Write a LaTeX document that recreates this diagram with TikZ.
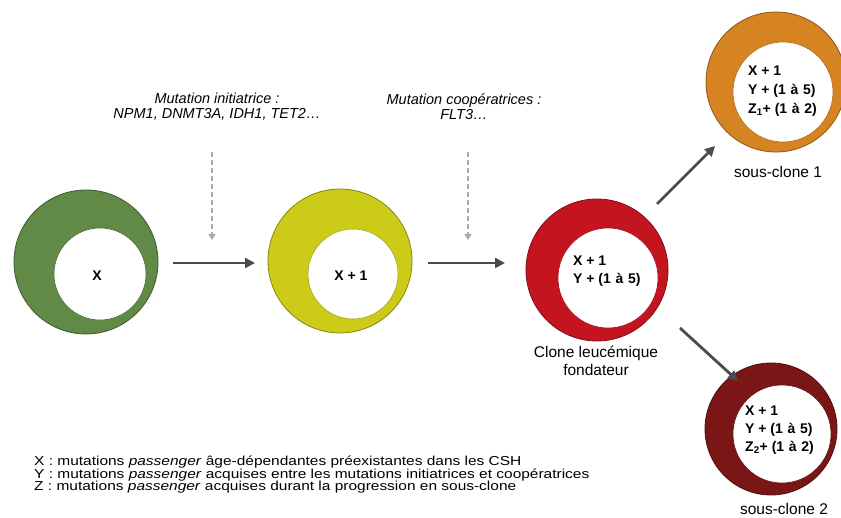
\documentclass[tikz,border=0pt]{standalone}
\usepackage{fontspec}
\setmainfont{Liberation Sans}
\newfontfamily\legfont[FakeStretch=1.19]{Liberation Sans}
\usetikzlibrary{arrows.meta}
\definecolor{cgreen}{RGB}{96,138,70}
\definecolor{cyellow}{RGB}{204,204,24}
\definecolor{cred}{RGB}{196,20,32}
\definecolor{corange}{RGB}{214,132,34}
\definecolor{cdark}{RGB}{122,22,22}
\definecolor{carrow}{RGB}{72,75,80}
\definecolor{cdash}{RGB}{172,172,172}
\begin{document}
\begin{tikzpicture}[x=1pt,y=-1pt,
 ring/.style={circle, draw=#1!65!black, fill=#1, line width=0.8pt, inner sep=0pt},
 hole/.style={circle, fill=white, draw=#1!80!black, line width=0.6pt, inner sep=0pt},
 lab/.style={font=\fontsize{14}{18}\selectfont\bfseries, align=left, inner sep=0pt},
 capt/.style={font=\fontsize{15.5}{18}\selectfont, align=center, inner sep=0pt},
 mut/.style={font=\fontsize{14.5}{15}\selectfont\itshape, align=center, inner sep=0pt},
 legend/.style={font=\legfont\fontsize{13}{12.5}\selectfont, align=left, inner sep=0pt},
 flow/.style={draw=carrow, line width=2.8pt, -{Triangle[length=10pt,width=10pt]}},
 hint/.style={draw=cdash, line width=1.6pt, dash pattern=on 5pt off 3pt, -{Triangle[length=6pt,width=7pt]}},
]
\useasboundingbox (0,0) rectangle (841,518);
\fill[white] (0,0) rectangle (841,518);
\clip (0,0) rectangle (841,518);

% circles
\node[ring=cgreen, minimum size=144pt] (g) at (86,262) {};
\node[hole=cgreen, minimum size=92pt] (gi) at (100,274) {};
\node[ring=cyellow, minimum size=144pt] (ye) at (340,261) {};
\node[hole=cyellow, minimum size=90pt] (yi) at (353,274) {};
\node[ring=cred, minimum size=142pt] (r) at (597,270) {};
\node[hole=cred, minimum size=100pt] (ri) at (608,278) {};
\node[ring=corange, minimum size=140pt] (o) at (776,82) {};
\node[hole=corange, minimum size=100pt] (oi) at (783,92) {};
\node[ring=cdark, minimum size=132pt] (d) at (771,429) {};
\node[hole=cdark, minimum size=98pt] (di) at (782,434) {};

% circle texts
\node[lab] (gt) at (97,276) {X};
\node[lab] (yt) at (351,276) {X + 1};
\node[lab, anchor=west] (rt) at (573,271) {X + 1\\Y + (1\,\,à\,\,5)};
\node[lab, anchor=west, font=\fontsize{14}{19}\selectfont\bfseries] (ot) at (748,91) {X + 1\\Y + (1\,\,à\,\,5)\\Z\textsubscript{1}+ (1\,\,à\,\,2)};
\node[lab, anchor=west] (dt) at (745,430) {X + 1\\Y + (1\,\,à\,\,5)\\Z\textsubscript{2}+ (1\,\,à\,\,2)};

% captions
\node[capt] (rc) at (596,361) {Clone leucémique\\fondateur};
\node[capt] (oc) at (778,172) {sous-clone 1};
\node[capt] (dc) at (784,509) {sous-clone 2};

% mutation texts
\node[mut] (m1) at (217,107) {Mutation initiatrice :\\NPM1, DNMT3A, IDH1, TET2…};
\node[mut] (m2) at (464,107) {Mutation coopératrices :\\FLT3…};

% arrows
\coordinate (a1s) at (173,263); \coordinate (a1e) at (255,263);
\coordinate (a2s) at (428,263); \coordinate (a2e) at (505,263);
\coordinate (a3s) at (657,204); \coordinate (a3e) at (715,146);
\coordinate (a4s) at (680,328); \coordinate (a4e) at (738,381);
\draw[flow] (a1s) -- (a1e);
\draw[flow] (a2s) -- (a2e);
\draw[flow] (a3s) -- (a3e);
\draw[flow] (a4s) -- (a4e);

\coordinate (h1s) at (212,152); \coordinate (h1e) at (212,240);
\coordinate (h2s) at (468,152); \coordinate (h2e) at (468,240);
\draw[hint] (h1s) -- (h1e);
\draw[hint] (h2s) -- (h2e);

% legend
\node[legend, anchor=west] (leg) at (34,475) {X : mutations \textit{passenger} âge-dépendantes préexistantes dans les CSH\\
Y : mutations \textit{passenger} acquises entre les mutations initiatrices et coopératrices\\
Z : mutations \textit{passenger} acquises durant la progression en sous-clone};
\end{tikzpicture}
\end{document}
